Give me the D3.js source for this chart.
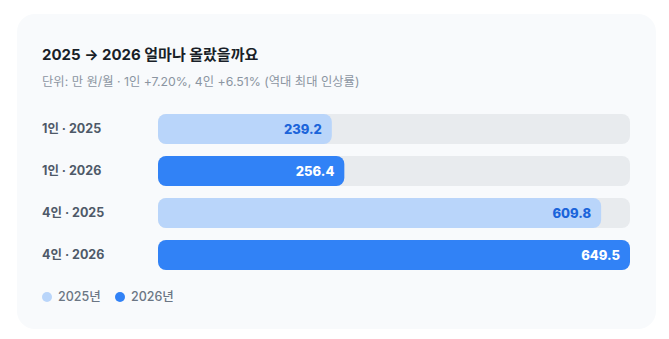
<!DOCTYPE html>
<html><head><meta charset="utf-8">
<script src="https://cdn.jsdelivr.net/npm/d3@7"></script>
<style>
html,body{margin:0;padding:0;background:#fff;}
svg{display:block;font-family:Inter,"Noto Sans CJK KR",sans-serif;}
</style></head>
<body><svg id="c" width="669" height="339"></svg>
<script>
const categories = ["1인 · 2025","1인 · 2026","4인 · 2025","4인 · 2026"];
const values = [239.2, 256.4, 609.8, 649.5];
const years = ["2025","2026","2025","2026"];
const legendLabels = ["2025년","2026년"];
const title = "2025 → 2026 얼마나 올랐을까요";
const subtitle = "단위: 만 원/월 · 1인 +7.20%, 4인 +6.51% (역대 최대 인상률)";

const colors = {"2025":"#b9d5fa","2026":"#3182f6"};
const labelColors = {"2025":"#1b64da","2026":"#ffffff"};

const svg = d3.select("#c");
svg.append("rect").attr("x",17).attr("y",14).attr("width",639).attr("height",315)
  .attr("rx",18).attr("fill","#f8fafc");

svg.append("text").attr("x",42).attr("y",60).text(title)
  .attr("font-size",15).attr("font-weight",700).attr("fill","#191f28");
svg.append("text").attr("x",42).attr("y",86).text(subtitle)
  .attr("font-size",12.3).attr("fill","#8b95a1");

const x = d3.scaleLinear().domain([0, d3.max(values)]).range([158, 630]);
const y2 = d3.scaleBand().domain(categories).range([114, 114+42*4-12]).paddingInner(12/42).paddingOuter(0);

const g = svg.append("g");
const rows = g.selectAll("g.row").data(categories).join("g").attr("class","row");
rows.append("rect").attr("x",x(0)).attr("y",d=>y2(d)).attr("width",x.range()[1]-x(0))
  .attr("height",y2.bandwidth()).attr("rx",8).attr("fill","#e8ebee");
rows.append("rect").attr("x",x(0)).attr("y",d=>y2(d)).attr("width",(d,i)=>x(values[i])-x(0))
  .attr("height",y2.bandwidth()).attr("rx",8).attr("fill",(d,i)=>colors[years[i]]);
rows.append("text").attr("x",(d,i)=>x(values[i])-10).attr("y",d=>y2(d)+y2.bandwidth()/2)
  .attr("dy","0.35em").attr("text-anchor","end").attr("font-size",13).attr("font-weight",800)
  .attr("fill",(d,i)=>labelColors[years[i]]).text((d,i)=>values[i].toFixed(1));
rows.append("text").attr("x",42).attr("y",d=>y2(d)+y2.bandwidth()/2).attr("dy","0.35em")
  .attr("font-size",12.5).attr("font-weight",700).attr("fill","#4e5968").text(d=>d);

const lg = svg.append("g");
const lx = [47, 120];
legendLabels.forEach((l,i)=>{
  lg.append("circle").attr("cx",lx[i]).attr("cy",297).attr("r",5).attr("fill",colors[["2025","2026"][i]]);
  lg.append("text").attr("x",lx[i]+11).attr("y",297).attr("dy","0.35em").attr("font-size",12.5)
    .attr("font-weight",500).attr("fill","#6b7684").text(l);
});
</script></body></html>
